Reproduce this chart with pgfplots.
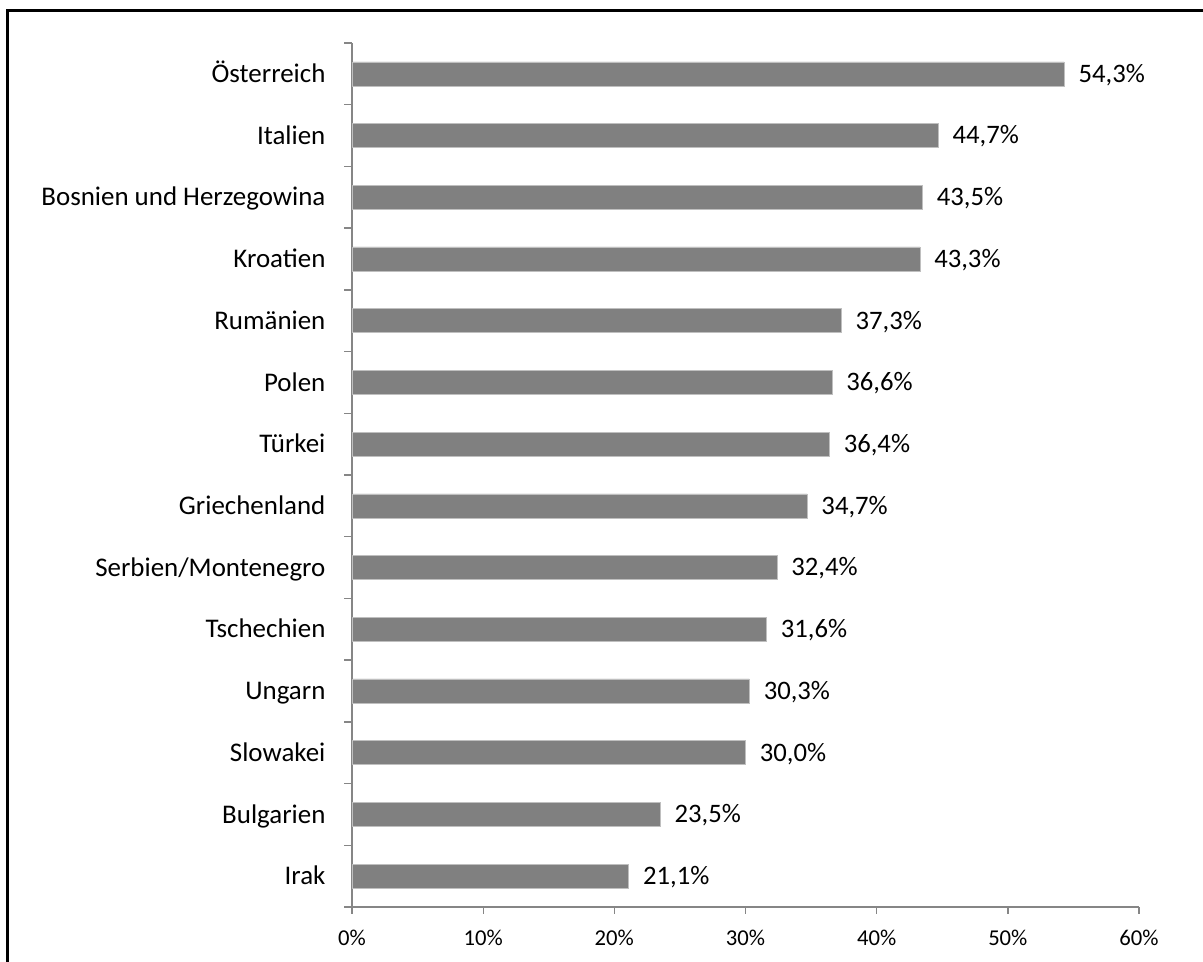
\documentclass[border=0pt]{standalone}
\usepackage{pgfplots}
\pgfplotsset{compat=1.18}
\usepackage{fontspec}
\setmainfont{Carlito}
\definecolor{barfill}{HTML}{808080}
\definecolor{axisgray}{HTML}{868686}

\begin{document}
\begin{tikzpicture}
% page = 1203 x 962 px at 0.75pt per px
\useasboundingbox (0pt,0pt) rectangle (902.25pt,721.5pt);
\draw[line width=2.25pt] (5.6pt,0pt) -- (5.6pt,713.25pt) -- (902.25pt,713.25pt);

\begin{axis}[
    at={(264pt,41.25pt)}, anchor=south west,
    scale only axis,
    width=590.25pt, height=648pt,
    xbar, bar width=18pt,
    xmin=0, xmax=60,
    ymin=-0.5, ymax=13.5,
    axis lines*=left,
    axis line style={axisgray, line width=1pt},
    xtick={0,10,...,60},
    xticklabel={\pgfmathprintnumber{\tick}\%},
    xtick style={axisgray, line width=1pt},
    tick align=outside,
    major tick length=5.25pt,
    ytick={0,...,13},
    yticklabels={Irak,Bulgarien,Slowakei,Ungarn,Tschechien,Serbien/Montenegro,Griechenland,Türkei,Polen,Rumänien,Kroatien,Bosnien und Herzegowina,Italien,Österreich},
    major y tick style={draw=none},
    minor ytick={-0.5,0.5,...,13.5},
    minor tick length=6pt,
    minor y tick style={draw=axisgray, line width=1pt},
    yticklabel style={font=\fontsize{20.2}{23}\selectfont, inner sep=0pt, anchor=base east, xshift=-14.5pt, yshift=-6.5pt},
    xticklabel style={font=\fontsize{17}{19}\selectfont, inner sep=0pt, yshift=-11.5pt},
    /pgf/number format/assume math mode=true,
    point meta=x,
    nodes near coords={\pgfmathprintnumber[fixed,fixed zerofill,precision=1,use comma]{\pgfplotspointmeta}\%},
    nodes near coords style={font=\fontsize{20}{23}\selectfont, anchor=base west, inner sep=0pt, xshift=10.5pt, yshift=-6.3pt},
    clip=false,
]
\addplot[fill=barfill, draw=black!25, line width=0.5pt] coordinates {
    (21.1,0) (23.5,1) (30.0,2) (30.3,3) (31.6,4) (32.4,5) (34.7,6)
    (36.4,7) (36.6,8) (37.3,9) (43.3,10) (43.5,11) (44.7,12) (54.3,13)
};
\end{axis}
\end{tikzpicture}
\end{document}
